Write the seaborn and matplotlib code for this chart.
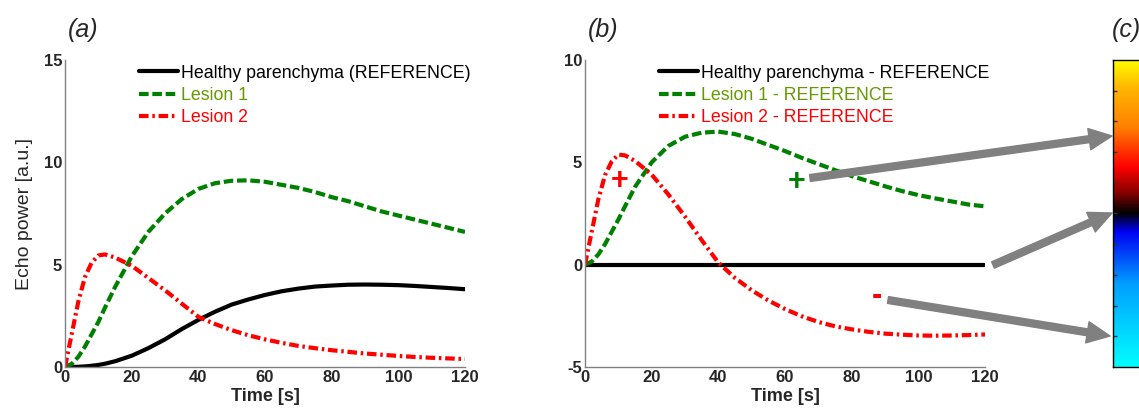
import numpy as np
import seaborn as sns
import matplotlib.pyplot as plt
from matplotlib.colors import LinearSegmentedColormap

sns.set_style('white')
plt.rcParams['font.family'] = ['Liberation Sans', 'DejaVu Sans']
plt.rcParams['axes.unicode_minus'] = False

# data
time_s = [0, 2, 4, 6, 8, 10, 12, 15, 20, 25, 30, 35, 40, 45, 50, 55, 60,
          65, 70, 75, 80, 85, 90, 95, 100, 105, 110, 115, 120]
healthy_a = [0, 0, 0.01, 0.03, 0.06, 0.1, 0.16, 0.28, 0.55, 0.92, 1.35, 1.85, 2.3,
             2.7, 3.05, 3.3, 3.52, 3.7, 3.83, 3.93, 3.98, 4.02, 4.03, 4.02, 4.0,
             3.96, 3.91, 3.86, 3.8]
lesion1_a = [0, 0.15, 0.5, 1.0, 1.6, 2.2, 2.9, 3.9, 5.4, 6.6, 7.5, 8.2, 8.7, 8.98,
             9.1, 9.12, 9.05, 8.9, 8.75, 8.55, 8.3, 8.1, 7.85, 7.6, 7.4, 7.2, 7.0,
             6.8, 6.6]
lesion2_a = [0, 1.6, 3.2, 4.4, 5.1, 5.45, 5.5, 5.35, 4.95, 4.35, 3.75, 3.1, 2.45,
             2.1, 1.8, 1.55, 1.35, 1.18, 1.03, 0.92, 0.82, 0.74, 0.66, 0.6, 0.54,
             0.49, 0.45, 0.42, 0.39]
healthy_b = [0] * len(time_s)
lesion1_b = [0, 0.15, 0.5, 1.0, 1.6, 2.2, 2.85, 3.8, 5.0, 5.8, 6.25, 6.45, 6.5, 6.38,
             6.15, 5.85, 5.55, 5.22, 4.92, 4.62, 4.33, 4.08, 3.83, 3.6, 3.4, 3.24,
             3.09, 2.94, 2.85]
lesion2_b = [0, 1.6, 3.19, 4.37, 5.04, 5.38, 5.34, 5.07, 4.4, 3.43, 2.35, 1.2, 0.1,
             -0.65, -1.25, -1.75, -2.17, -2.52, -2.8, -3.01, -3.16, -3.28, -3.37,
             -3.42, -3.46, -3.47, -3.46, -3.44, -3.41]

labels_a = ['Healthy parenchyma (REFERENCE)', 'Lesion 1', 'Lesion 2']
labels_b = ['Healthy parenchyma - REFERENCE', 'Lesion 1 - REFERENCE', 'Lesion 2 - REFERENCE']
x_ticks = [0, 20, 40, 60, 80, 100, 120]

line_col = ['black', '#008000', '#ff0000']
text_col = ['black', '#669900', '#ff0000']
styles = ['-', (0, (2.3, 0.9)), (0, (2.3, 0.9, 0.6, 0.9))]

W, H = 1139, 415
fig = plt.figure(figsize=(W / 100, H / 100), dpi=100)
ax_a = fig.add_axes([65 / W, 1 - 367 / H, 400 / W, 307 / H])
ax_b = fig.add_axes([585 / W, 1 - 367 / H, 400 / W, 307 / H])


def draw(ax, series, labels, ylim, yticks):
    for y, c, ls, lab in zip(series, line_col, styles, labels):
        sns.lineplot(x=time_s, y=y, ax=ax, color=c, lw=3.0, linestyle=ls,
                     label=lab, estimator=None)
    ax.set_xlim(0, 120)
    ax.set_ylim(*ylim)
    ax.set_xticks(x_ticks)
    ax.set_yticks(yticks)
    for s in ['top', 'right']:
        ax.spines[s].set_visible(False)
    for s in ['left', 'bottom']:
        ax.spines[s].set_color('#808080')
        ax.spines[s].set_linewidth(1.0)
    ax.tick_params(direction='in', length=4, color='#808080', labelsize=12, pad=2)
    for t in ax.get_xticklabels() + ax.get_yticklabels():
        t.set_fontweight('bold')
    ax.set_xlabel('Time [s]', fontsize=13, fontweight='bold', labelpad=2)
    leg = ax.legend(loc='upper left', bbox_to_anchor=(0.185, 0.985), frameon=False,
                    fontsize=12.8, handlelength=2.2, handletextpad=0.15,
                    labelspacing=0.3, borderaxespad=0, borderpad=0)
    for txt, c in zip(leg.get_texts(), text_col):
        txt.set_color(c)


draw(ax_a, [healthy_a, lesion1_a, lesion2_a], labels_a, (0, 15), [0, 5, 10, 15])
ax_a.set_ylabel('Echo power [a.u.]', fontsize=14, labelpad=8)
draw(ax_b, [healthy_b, lesion1_b, lesion2_b], labels_b, (-5, 10), [-5, 0, 5, 10])
ax_b.set_ylabel('')

# sign markers
ax_b.text(10.5, 4.1, '+', color='#ff0000', fontsize=22, fontweight='bold', ha='center', va='center')
ax_b.text(63.5, 4.05, '+', color='#008000', fontsize=22, fontweight='bold', ha='center', va='center')
ax_b.text(87.5, -1.55, '-', color='#ff0000', fontsize=22, fontweight='bold', ha='center', va='center')

# colour bar
cmap = LinearSegmentedColormap.from_list('echo', [
    (0.0, (0, 1, 1)), (0.27, (0, 0.62, 1)), (0.44, (0, 0, 0.95)), (0.5, (0, 0, 0)),
    (0.57, (0.55, 0, 0)), (0.65, (1, 0, 0)), (0.78, (1, 0.5, 0)), (0.91, (1, 0.72, 0)),
    (1.0, (1, 1, 0))])
ax_c = fig.add_axes([1113 / W, 1 - 367 / H, 60 / W, 307 / H])
ax_c.imshow(np.linspace(1, 0, 256)[:, None], aspect='auto', cmap=cmap,
            extent=[0, 1, 0, 1])
ax_c.set_xticks([])
ax_c.set_yticks(np.linspace(0.1, 0.9, 9))
ax_c.set_yticklabels([])
ax_c.tick_params(direction='in', length=3, width=1, left=True, right=True, color='#333333')
for s in ax_c.spines.values():
    s.set_color('black')
    s.set_linewidth(1.0)

# panel labels
for x, s in [(68, '(a)'), (588, '(b)'), (1112, '(c)')]:
    fig.text(x / W, 1 - 30 / H, s, fontsize=18, style='italic', ha='left', va='center')

# arrows towards the colour bar
arrows = [((810, 178), (1112, 136)), ((993, 265), (1112, 213)), ((888, 300), (1110, 336))]
for (x0, y0), (x1, y1) in arrows:
    ax_b.annotate('', xy=(x1 / W, 1 - y1 / H), xytext=(x0 / W, 1 - y0 / H),
                  xycoords='figure fraction', textcoords='figure fraction',
                  annotation_clip=False,
                  arrowprops=dict(arrowstyle='simple,head_width=1.4,head_length=1.5,tail_width=0.45',
                                  color='#808080', mutation_scale=11, shrinkA=0, shrinkB=0))

fig.savefig('out.png', dpi=100)
